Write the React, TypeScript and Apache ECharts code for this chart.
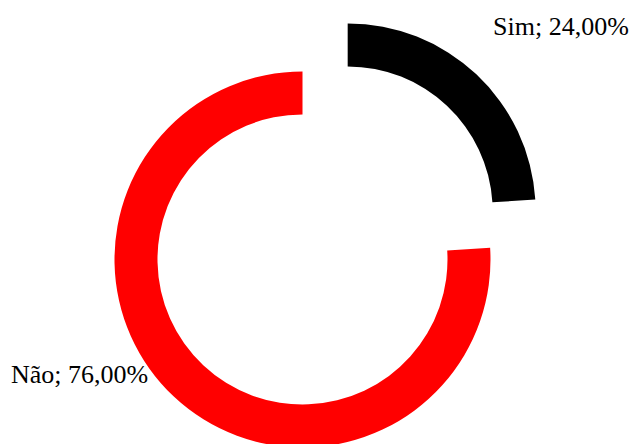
import React, { useEffect, useRef } from "react";
import * as echarts from "echarts";

const categories = ["Sim", "Não"];
const values = [24, 76];
const colors = ["#000000", "#FF0000"];

// label anchor positions (layout, not data)
const labelPos = [
  { x: 493, y: 26.5 },
  { x: 11, y: 374.5 },
];

const fmt = (name: string, v: number) =>
  name + "; " + v.toFixed(2).replace(".", ",") + "%";

export default function App() {
  const ref = useRef<HTMLDivElement>(null);
  useEffect(() => {
    document.body.style.margin = "0";
    const chart = echarts.init(ref.current!, undefined, { renderer: "svg" });
    chart.setOption({
      animation: false,
      backgroundColor: "#ffffff",
      graphic: categories.map((c, i) => ({
        type: "text",
        x: labelPos[i].x,
        y: labelPos[i].y,
        z: 10,
        style: {
          text: fmt(c, values[i]),
          fontFamily: "Liberation Serif",
          fontSize: 26,
          fill: "#000000",
          textAlign: "left",
          textVerticalAlign: "middle",
        },
      })),
      series: [
        {
          type: "pie",
          center: [302.5, 259.5],
          radius: [145, 188],
          startAngle: 90,
          clockwise: true,
          selectedMode: "single",
          selectedOffset: 66,
          avoidLabelOverlap: false,
          emphasis: { disabled: true },
          label: { show: false },
          labelLine: { show: false },
          data: categories.map((c, i) => ({
            name: c,
            value: values[i],
            selected: i === 0,
            itemStyle: { color: colors[i] },
          })),
        },
      ],
    });
    return () => chart.dispose();
  }, []);
  return <div ref={ref} style={{ width: 632, height: 444 }} />;
}
